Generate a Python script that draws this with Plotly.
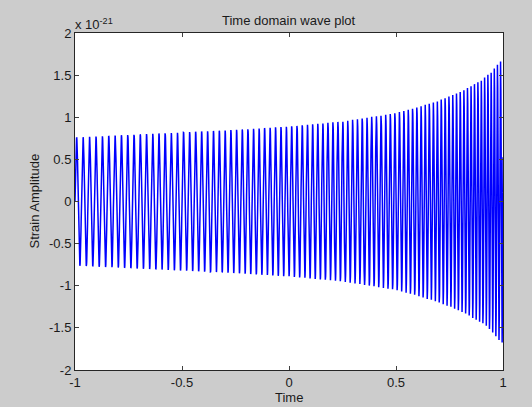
import numpy as np
import plotly.graph_objects as go

# Envelope of the strain signal (units of 1e-21) at selected times
env_time = [-1.0, -0.75, -0.5, -0.25, 0.0, 0.25, 0.4, 0.5, 0.6, 0.7, 0.8, 0.9, 0.95, 1.0]
env_amp = [0.76, 0.79, 0.82, 0.85, 0.89, 0.95, 1.01, 1.05, 1.12, 1.20, 1.30, 1.44, 1.55, 1.70]

# Instantaneous frequency of the chirp (cycles per unit time)
freq_time = [-1.0, -0.5, 0.0, 0.5, 0.8, 1.0]
freq_val = [33.0, 35.0, 40.0, 47.0, 58.0, 70.0]

# Number of time samples in the recorded series
n_samples = 3000

x_ticks = [-1, -0.5, 0, 0.5, 1]
x_tick_text = ["-1", "-0.5", "0", "0.5", "1"]
y_ticks = [-2, -1.5, -1, -0.5, 0, 0.5, 1, 1.5, 2]
y_tick_text = ["-2", "-1.5", "-1", "-0.5", "0", "0.5", "1", "1.5", "2"]

# Sampled waveform
t = np.linspace(-1.0, 1.0, n_samples)
f = np.interp(t, freq_time, freq_val)
phase = np.concatenate([[0.0], np.cumsum(0.5 * (f[1:] + f[:-1]) * np.diff(t))])
amp = np.interp(t, env_time, env_amp)
strain = amp * np.sin(2 * np.pi * phase)

font = dict(family="Liberation Sans, Arial, sans-serif", size=13, color="#1a1a1a")

fig = go.Figure()
fig.add_trace(go.Scatter(x=t, y=strain, mode="lines",
                         line=dict(color="#0000ff", width=1.5),
                         hoverinfo="skip", showlegend=False))

axis_common = dict(showline=True, linecolor="#262626", linewidth=1, mirror="ticks",
                   ticks="inside", ticklen=4, tickcolor="#404040", tickwidth=1,
                   showgrid=False, zeroline=False, tickfont=font, automargin=False)

fig.update_xaxes(range=[-1, 1], tickvals=x_ticks, ticktext=x_tick_text, **axis_common)
fig.update_yaxes(range=[-2, 2], tickvals=y_ticks, ticktext=y_tick_text, **axis_common)

fig.update_layout(
    width=532, height=407,
    margin=dict(l=75, r=29, t=33, b=37, autoexpand=False),
    paper_bgcolor="#cccccc", plot_bgcolor="#ffffff",
    font=font,
    annotations=[
        dict(text="Time domain wave plot", xref="paper", yref="paper",
             x=0.5, y=1, xanchor="center", yanchor="middle", yshift=13,
             showarrow=False, font=font),
        dict(text="x 10<sup>-21</sup>", xref="paper", yref="paper",
             x=0, y=1, xanchor="left", yanchor="middle", yshift=9, xshift=-2,
             showarrow=False, font=font),
        dict(text="Time", xref="paper", yref="paper",
             x=0.5, y=0, xanchor="center", yanchor="middle", yshift=-27,
             showarrow=False, font=font),
        dict(text="Strain Amplitude", xref="paper", yref="paper",
             x=0, y=0.5, xanchor="center", yanchor="middle", xshift=-41,
             textangle=-90, showarrow=False, font=font),
    ],
)

fig.write_html("out.html")
